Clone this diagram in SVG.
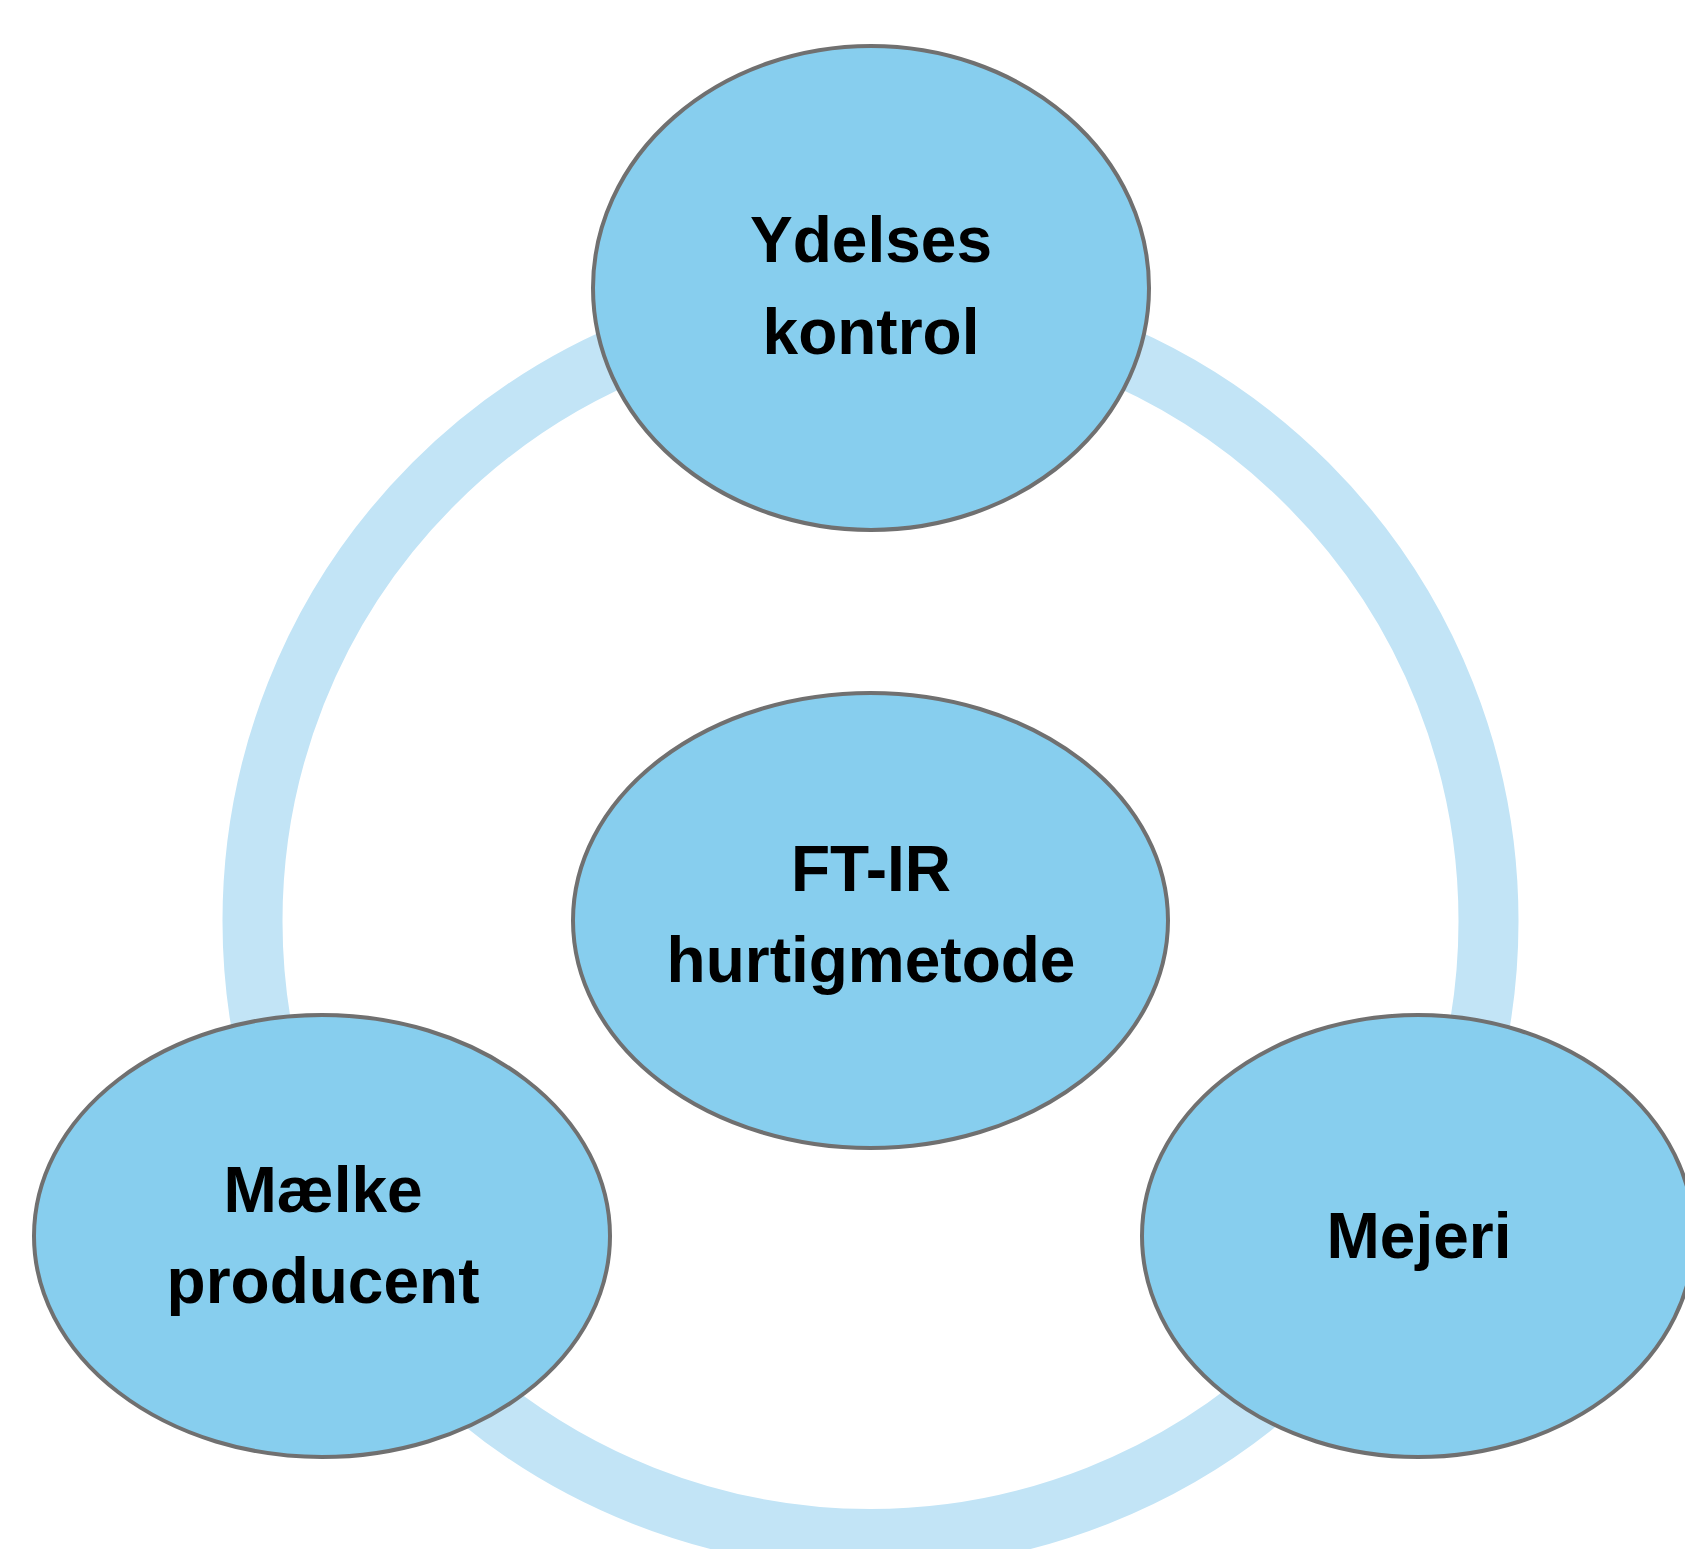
<svg xmlns="http://www.w3.org/2000/svg" width="1685" height="1549" viewBox="0 0 1685 1549">
  <style>
    .node { fill: #87CEEE; stroke: #707070; stroke-width: 4; }
    .label { font-family: "Liberation Sans", Arial, sans-serif; font-weight: bold; font-size: 64px; fill: #000000; text-anchor: middle; }
    .ring { fill: none; stroke: #C2E4F6; stroke-width: 60; }
  </style>
  <rect x="0" y="0" width="1685" height="1549" fill="#FFFFFF"/>
  <g id="connectors">
    <circle class="ring" cx="870.5" cy="921" r="618"/>
  </g>
  <g id="node-ydelseskontrol">
    <ellipse class="node" cx="871" cy="288" rx="278" ry="242"/>
    <text class="label" x="871" y="262">Ydelses</text>
    <text class="label" x="871" y="354">kontrol</text>
  </g>
  <g id="node-ftir">
    <ellipse class="node" cx="870.5" cy="920.5" rx="297.5" ry="227.5"/>
    <text class="label" x="871" y="891">FT-IR</text>
    <text class="label" x="871" y="982">hurtigmetode</text>
  </g>
  <g id="node-maelkeproducent">
    <ellipse class="node" cx="322" cy="1236" rx="288" ry="221"/>
    <text class="label" x="323" y="1212">Mælke</text>
    <text class="label" x="323" y="1303">producent</text>
  </g>
  <g id="node-mejeri">
    <ellipse class="node" cx="1418" cy="1236" rx="276" ry="221"/>
    <text class="label" x="1419" y="1258">Mejeri</text>
  </g>
</svg>
